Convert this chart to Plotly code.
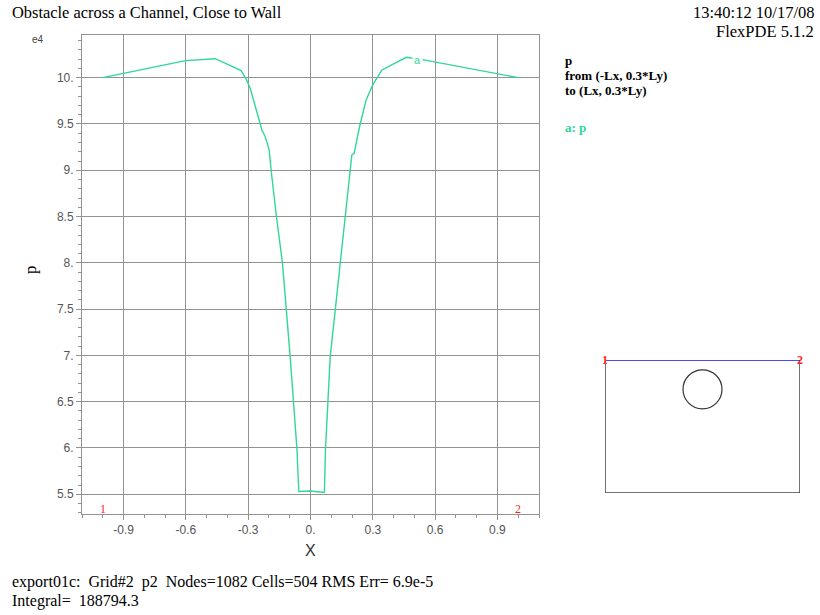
import plotly.graph_objects as go

# ---- data (p in units of e4) ----
x_pos = [-1.0, -0.602, -0.459, -0.334, -0.311, -0.290, -0.234, -0.218, -0.199, -0.188,
         -0.162, -0.135, -0.098, -0.082, -0.078, -0.065, -0.059, -0.056, 0.0, 0.067,
         0.072, 0.079, 0.082, 0.095, 0.119, 0.143, 0.167, 0.199, 0.210, 0.236,
         0.268, 0.299, 0.344, 0.461, 0.552, 1.0]
p_val = [10.0, 10.184, 10.205, 10.076, 9.99, 9.885, 9.435, 9.363, 9.22, 8.968,
         8.463, 8.0, 6.99, 6.52, 6.30, 5.98, 5.66, 5.53, 5.535, 5.52,
         5.98, 6.30, 6.52, 6.99, 7.49, 8.0, 8.49, 9.165, 9.18, 9.47,
         9.76, 9.92, 10.083, 10.22, 10.19, 10.0]

x_ticks = [-0.9, -0.6, -0.3, 0.0, 0.3, 0.6, 0.9]
x_tick_text = ["-0.9", "-0.6", "-0.3", "0.", "0.3", "0.6", "0.9"]
y_ticks = [5.5, 6.0, 6.5, 7.0, 7.5, 8.0, 8.5, 9.0, 9.5, 10.0]
y_tick_text = ["5.5", "6.", "6.5", "7.", "7.5", "8.", "8.5", "9.", "9.5", "10."]

# inset geometry (channel with obstacle)
box_x = [-1.0, 1.0]
box_y = [-1.06, 0.3]
circle_c = [0.0, 0.0]
circle_r = 0.2

GREEN = "#2fd896"
GRID = "#939393"
SERIF = "Liberation Serif, Times New Roman, serif"
SANS = "Liberation Sans, Arial, sans-serif"

W, H = 820, 615
def px(x):
    return x / W
def py(y):
    return 1 - y / H

fig = go.Figure()
fig.add_trace(go.Scatter(x=x_pos, y=p_val, mode="lines",
                         line=dict(color=GREEN, width=1.4),
                         xaxis="x", yaxis="y", showlegend=False, hoverinfo="skip"))

# inset box: left, bottom, right in gray, top in blue
fig.add_trace(go.Scatter(x=[box_x[0], box_x[0], box_x[1], box_x[1]],
                         y=[box_y[1], box_y[0], box_y[0], box_y[1]],
                         mode="lines", line=dict(color="#444444", width=1.5),
                         xaxis="x2", yaxis="y2", showlegend=False, hoverinfo="skip",
                         cliponaxis=False))
fig.add_trace(go.Scatter(x=box_x, y=[box_y[1], box_y[1]],
                         mode="lines", line=dict(color="#1010ff", width=1.5),
                         xaxis="x2", yaxis="y2", showlegend=False, hoverinfo="skip",
                         cliponaxis=False))

fig.add_shape(type="circle", xref="x2", yref="y2",
              x0=circle_c[0] - circle_r, x1=circle_c[0] + circle_r,
              y0=circle_c[1] - circle_r, y1=circle_c[1] + circle_r,
              line=dict(color="#333333", width=1.2))

axis_common = dict(showline=True, linecolor=GRID, linewidth=1, mirror=True,
                   gridcolor=GRID, gridwidth=1, zeroline=False,
                   ticks="outside", ticklen=5, tickcolor=GRID,
                   tickfont=dict(family=SANS, size=12, color="#555555"))

fig.update_layout(
    width=W, height=H,
    margin=dict(l=0, r=0, t=0, b=0),
    paper_bgcolor="white", plot_bgcolor="white",
    xaxis=dict(domain=[px(82), px(539)], anchor="y", range=[-1.1, 1.1],
               tickvals=x_ticks, ticktext=x_tick_text,
               minor=dict(dtick=0.1, tick0=0, ticks="outside", ticklen=3,
                          tickcolor=GRID, showgrid=False),
               **axis_common),
    yaxis=dict(domain=[py(514), py(35)], anchor="x", range=[5.287, 10.461],
               tickvals=y_ticks, ticktext=y_tick_text,
               minor=dict(dtick=0.1, tick0=0, ticks="outside", ticklen=3,
                          tickcolor=GRID, showgrid=False),
               **axis_common),
    xaxis2=dict(domain=[px(605), px(800)], anchor="y2", range=box_x,
                visible=False, fixedrange=True),
    yaxis2=dict(domain=[py(493), py(360)], anchor="x2", range=box_y,
                visible=False, fixedrange=True),
)

ann = []
def text(x, y, s, size=12, color="black", family=SERIF, xanchor="left",
         yanchor="middle", **kw):
    ann.append(dict(x=px(x), y=py(y), xref="paper", yref="paper", text=s,
                    showarrow=False, xanchor=xanchor, yanchor=yanchor,
                    font=dict(size=size, color=color, family=family), **kw))

text(10, 13, "Obstacle across a Channel, Close to Wall", size=16.4)
text(816, 12, "13:40:12 10/17/08", size=16.5, xanchor="right")
text(816, 31, "FlexPDE 5.1.2", size=16.5, xanchor="right")
text(38, 39, "e4", size=10, color="#444444", family=SANS, xanchor="center")
text(31, 270, "p", size=17, textangle=-90, xanchor="center")
text(310, 550, "X", size=16, color="#333333", family=SANS, xanchor="center")

text(563, 61, "<b>p</b>", size=13)
text(563, 76, "<b>from (-Lx, 0.3*Ly)</b>", size=13)
text(563, 91, "<b>to (Lx, 0.3*Ly)</b>", size=13)
text(563, 127, "<b>a: p</b>", size=13, color=GREEN)

text(10, 582, "export01c:\u00a0 Grid#2\u00a0 p2\u00a0 Nodes=1082 Cells=504 RMS Err= 6.9e-5", size=16)
text(10, 601, "Integral=\u00a0 188794.3", size=16)

# curve label "a" embedded in the line
ann.append(dict(x=0.517, y=10.195, xref="x", yref="y", text="a", showarrow=False,
                bgcolor="white", borderpad=1,
                font=dict(size=11, color=GREEN, family=SANS)))
# path endpoints on the main plot
ann.append(dict(x=-1.0, y=5.287, xref="x", yref="y", text="1", showarrow=False,
                yanchor="bottom", yshift=-4,
                font=dict(size=12, color="#ff2020", family=SERIF)))
ann.append(dict(x=1.0, y=5.287, xref="x", yref="y", text="2", showarrow=False,
                yanchor="bottom", yshift=-4,
                font=dict(size=12, color="#ff2020", family=SERIF)))
# path endpoints on the inset
ann.append(dict(x=box_x[0], y=box_y[1], xref="x2", yref="y2", text="<b>1</b>",
                showarrow=False, font=dict(size=12, color="#ff2020", family=SERIF)))
ann.append(dict(x=box_x[1], y=box_y[1], xref="x2", yref="y2", text="<b>2</b>",
                showarrow=False, font=dict(size=12, color="#ff2020", family=SERIF)))

fig.update_layout(annotations=ann)
fig.write_html("out.html")
